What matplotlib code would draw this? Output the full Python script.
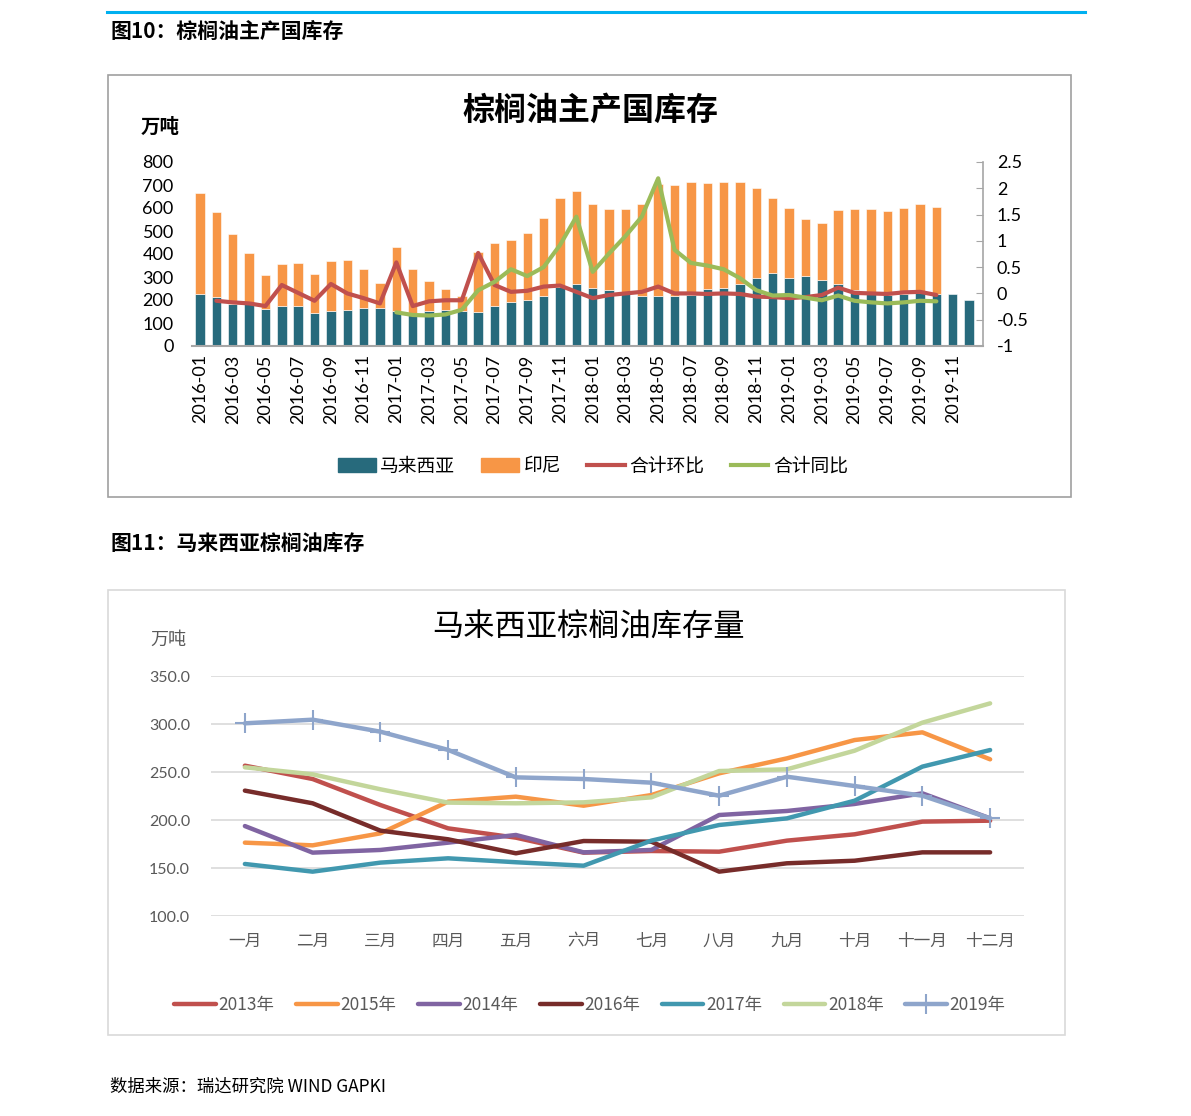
import matplotlib.pyplot as plt
import matplotlib.patches as mpatches
from matplotlib.lines import Line2D
import numpy as np

plt.rcParams['font.family'] = ['Lato', 'Noto Sans CJK SC', 'DejaVu Sans']
plt.rcParams['axes.unicode_minus'] = False

# ---------- 图10 数据 ----------
months_top = ['%d-%02d' % (y, m) for y in range(2016, 2020) for m in range(1, 13)]
malaysia = [226, 214, 183, 183, 162, 175, 175, 145, 152, 155, 164, 164,
            152, 142, 152, 157, 154, 149, 175, 193, 199, 219, 258, 271,
            254, 245, 232, 219, 217, 217, 220, 248, 251, 270, 297, 317,
            297, 304, 288, 270, 243, 231, 223, 226, 231, 228, 225, 199]
indonesia = [438, 367, 305, 220, 145, 180, 187, 169, 218, 219, 171, 108,
             280, 191, 131, 89, 63, 259, 271, 268, 291, 338, 385, 403,
             362, 351, 365, 397, 488, 483, 492, 459, 461, 442, 390, 328,
             303, 250, 245, 320, 353, 364, 364, 374, 385, 376]
# 合计环比 从 2016-02 开始
mom = [-0.14, -0.17, -0.19, -0.24, 0.16, 0.01, -0.14, 0.18, 0.00, -0.09, -0.19,
       0.59, -0.24, -0.15, -0.13, -0.13, 0.77, 0.16, 0.03, 0.05, 0.13, 0.15, 0.03,
       -0.09, -0.03, 0.00, 0.03, 0.13, 0.00, 0.00, -0.01, 0.00, -0.01, -0.06, -0.07,
       -0.09, -0.07, -0.03, 0.11, 0.01, 0.00, -0.01, 0.02, 0.03, -0.03]
# 合计同比 从 2017-01 开始
yoy = [-0.36, -0.41, -0.42, -0.40, -0.31, 0.06, 0.22, 0.46, 0.33, 0.50, 0.92, 1.46,
       0.41, 0.76, 1.09, 1.46, 2.19, 0.83, 0.58, 0.53, 0.46, 0.29, 0.06, -0.04,
       -0.03, -0.08, -0.13, -0.04, -0.14, -0.17, -0.19, -0.17, -0.14, -0.15]

# ---------- 图11 数据 ----------
months_cn = ['一月', '二月', '三月', '四月', '五月', '六月', '七月', '八月',
             '九月', '十月', '十一月', '十二月']
y2013 = [256.6, 242.7, 215.6, 191.3, 181.6, 166.0, 167.7, 167.0, 178.5, 185.1, 198.3, 199.3]
y2015 = [176.4, 173.6, 186.1, 219.1, 224.3, 214.9, 226.0, 248.6, 264.2, 283.3, 291.3, 263.2]
y2014 = [193.7, 166.0, 168.8, 176.4, 184.4, 166.3, 168.8, 205.2, 209.4, 216.7, 227.8, 201.7]
y2016 = [230.6, 217.4, 188.9, 179.9, 165.3, 178.1, 177.4, 146.2, 154.9, 157.6, 166.3, 166.3]
y2017 = [154.2, 146.2, 155.6, 160.1, 156.0, 152.4, 178.5, 194.8, 201.7, 220.1, 255.6, 272.9]
y2018 = [254.9, 247.6, 232.0, 218.1, 217.4, 218.4, 223.6, 251.0, 252.8, 272.2, 301.4, 321.5]
y2019 = [300.7, 304.5, 292.0, 273.0, 244.4, 242.7, 238.9, 225.3, 245.1, 235.4, 225.3, 201.7]

W, H = 1191, 1116
fig = plt.figure(figsize=(W / 100, H / 100), dpi=100)

def fx(px):
    return px / W

def fy(py):
    return 1 - py / H

cjk = ['Noto Sans CJK SC', 'DejaVu Sans']

# 顶部蓝线和标题
fig.add_artist(Line2D([fx(107), fx(1085)], [fy(12), fy(12)], color='#00B0F0', lw=2.2))
fig.text(fx(110), fy(31), '图10：棕榈油主产国库存', family=cjk, fontsize=15,
         fontweight='bold', va='center', ha='left')
fig.text(fx(110), fy(543), '图11：马来西亚棕榈油库存', family=cjk, fontsize=15,
         fontweight='bold', va='center', ha='left')
fig.text(fx(110), fy(1087), '数据来源：瑞达研究院 WIND GAPKI', family=cjk, fontsize=12.5,
         va='center', ha='left')

# 边框
fig.add_artist(mpatches.Rectangle((fx(108), fy(497)), fx(1071 - 108), (497 - 75) / H,
                                  transform=fig.transFigure, fill=False,
                                  edgecolor='#A0A0A0', lw=1.2))
fig.add_artist(mpatches.Rectangle((fx(108), fy(1035)), fx(1065 - 108), (1035 - 590) / H,
                                  transform=fig.transFigure, fill=False,
                                  edgecolor='#D9D9D9', lw=1.2))

# ---------- 图10 ----------
ax = fig.add_axes([fx(191.8), fy(346), fx(983 - 191.8), (346 - 162) / H])
x = np.arange(len(months_top))
c_my, c_id, c_mom, c_yoy = '#276A7C', '#F79646', '#C0504D', '#9BBB59'
ax.bar(x, malaysia, width=0.58, color=c_my, edgecolor='white', linewidth=0.4)
ax.bar(x[:len(indonesia)], indonesia, width=0.58, bottom=malaysia[:len(indonesia)],
       color=c_id, edgecolor='white', linewidth=0.4)
ax.set_xlim(-0.5, 47.85)
ax.set_ylim(0, 800)
ax.set_yticks(np.arange(0, 801, 100))
ax.tick_params(axis='y', length=0, pad=13, labelsize=13)
ax.set_xticks(x[::2])
ax.set_xticklabels(months_top[::2], rotation=90, fontsize=13)
ax.tick_params(axis='x', length=0, pad=6)
for s in ['left', 'top', 'right']:
    ax.spines[s].set_visible(False)
ax.spines['bottom'].set_color('#A6A6A6')
ax.spines['bottom'].set_linewidth(1.5)

ax2 = ax.twinx()
ax2.plot(x[1:1 + len(mom)], mom, color=c_mom, lw=3, solid_capstyle='round')
ax2.plot(x[12:12 + len(yoy)], yoy, color=c_yoy, lw=3, solid_capstyle='round')
ax2.set_ylim(-1, 2.5)
rt = [-1, -0.5, 0, 0.5, 1, 1.5, 2, 2.5]
ax2.set_yticks(rt)
ax2.set_yticklabels(['%g' % v for v in rt], fontsize=13)
ax2.tick_params(axis='y', direction='in', length=5, color='#A6A6A6', pad=10)
for s in ['left', 'top', 'bottom']:
    ax2.spines[s].set_visible(False)
ax2.spines['right'].set_color('#A6A6A6')
ax2.spines['right'].set_linewidth(1.2)

fig.text(fx(590), fy(111), '棕榈油主产国库存', family=cjk, fontsize=23,
         fontweight='bold', ha='center', va='center')
fig.text(fx(141), fy(127), '万吨', family=cjk, fontsize=14, fontweight='bold',
         ha='left', va='center')

h_top = [mpatches.Patch(color=c_my, label='马来西亚'),
         mpatches.Patch(color=c_id, label='印尼'),
         Line2D([], [], color=c_mom, lw=3, label='合计环比'),
         Line2D([], [], color=c_yoy, lw=3, label='合计同比')]
fig.legend(handles=h_top, loc='center', bbox_to_anchor=(fx(593), fy(466)), ncol=4,
           frameon=False, prop={'family': cjk, 'size': 13.5}, handlelength=2.0,
           handleheight=0.7, handletextpad=0.25, columnspacing=1.4)

# ---------- 图11 ----------
bx = fig.add_axes([fx(211), fy(916), fx(1024 - 211), (916 - 676) / H])
xm = np.arange(12)
series = [('2013年', y2013, '#C0504D'), ('2015年', y2015, '#F79646'),
          ('2014年', y2014, '#8064A2'), ('2016年', y2016, '#772C2A'),
          ('2017年', y2017, '#4198AF'), ('2018年', y2018, '#C3D69B'),
          ('2019年', y2019, '#8EA5CB')]
for name, vals, col in series:
    if name == '2019年':
        bx.plot(xm, vals, color=col, lw=3.2, marker='+', markersize=15,
                markeredgewidth=1.5, label=name, solid_capstyle='round')
    else:
        bx.plot(xm, vals, color=col, lw=3.2, label=name, solid_capstyle='round')
bx.set_xlim(-0.5, 11.5)
bx.set_ylim(100, 350)
bx.set_yticks(np.arange(100, 351, 50))
bx.set_yticklabels(['%.1f' % v for v in np.arange(100, 351, 50)])
bx.tick_params(axis='y', length=0, pad=15, labelsize=11.5, labelcolor='#595959')
bx.set_xticks(xm)
bx.set_xticklabels(months_cn, family=cjk, fontsize=12, color='#595959')
bx.tick_params(axis='x', length=0, pad=12)
bx.grid(axis='y', color='#D9D9D9', lw=1.2)
bx.set_axisbelow(True)
for s in bx.spines.values():
    s.set_visible(False)

fig.text(fx(588), fy(628), '马来西亚棕榈油库存量', family=cjk, fontsize=22.5,
         ha='center', va='center')
fig.text(fx(150), fy(640), '万吨', family=cjk, fontsize=13, color='#595959',
         ha='left', va='center')

hb, lb = bx.get_legend_handles_labels()
fig.legend(hb, lb, loc='center', bbox_to_anchor=(fx(590), fy(1005)), ncol=7,
           frameon=False, prop={'family': cjk, 'size': 12.5}, labelcolor='#595959',
           handlelength=2.4, handletextpad=0.15, columnspacing=1.25)

fig.savefig('out.png', dpi=100)
